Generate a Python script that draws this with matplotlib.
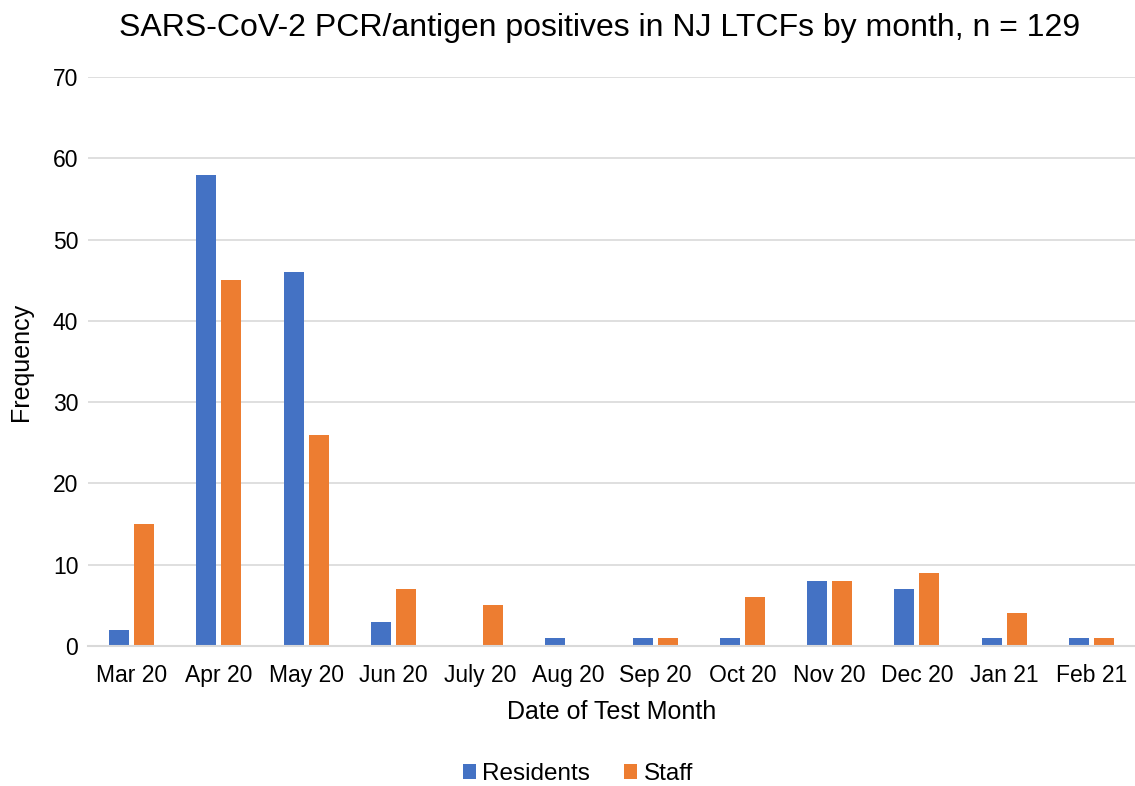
import matplotlib
matplotlib.use("Agg")
import matplotlib.pyplot as plt
import numpy as np

months = ["Mar 20", "Apr 20", "May 20", "Jun 20", "July 20", "Aug 20",
          "Sep 20", "Oct 20", "Nov 20", "Dec 20", "Jan 21", "Feb 21"]
residents = [2, 58, 46, 3, 0, 1, 1, 1, 8, 7, 1, 1]
staff = [15, 45, 26, 7, 5, 0, 1, 6, 8, 9, 4, 1]

plt.rcParams['font.family'] = ['Liberation Sans', 'DejaVu Sans']

fig = plt.figure(figsize=(11.35, 7.86), dpi=100)
ax = fig.add_axes([88/1135, 1-646/786, (1135-88)/1135, (646-77)/786])

x = np.arange(len(months))
w = 0.23
off = 0.143
ax.bar(x - off, residents, width=w, color="#4472C4", label="Residents", zorder=3)
ax.bar(x + off, staff, width=w, color="#ED7D31", label="Staff", zorder=3)

ax.set_xlim(-0.5, len(months) - 0.5)
ax.set_ylim(0, 70)
ax.set_yticks(range(0, 71, 10))
ax.set_xticks(x)
ax.set_xticklabels(months)
ax.tick_params(axis='both', length=0, labelsize=16.5, colors="#000000")
ax.tick_params(axis='x', pad=13)
ax.tick_params(axis='y', pad=7)
ax.grid(axis='y', color="#D9D9D9", linewidth=1.2, zorder=0)
for s in ["top", "right", "left"]:
    ax.spines[s].set_visible(False)
ax.spines["bottom"].set_color("#D9D9D9")
ax.spines["bottom"].set_linewidth(1.5)
ax.spines["bottom"].set_zorder(4)

ax.set_xlabel("Date of Test Month", fontsize=18, labelpad=9)
ax.set_ylabel("Frequency", fontsize=18, labelpad=14)
fig.text(0.528, 1-28/786, "SARS-CoV-2 PCR/antigen positives in NJ LTCFs by month, n = 129",
         ha="center", va="center", fontsize=23)

fig.legend(loc="center", bbox_to_anchor=(0.509, 1-774/786), ncol=2, frameon=False,
           fontsize=17.5, handlelength=0.55, handleheight=0.55, handletextpad=0.25,
           columnspacing=1.4)

fig.savefig("out.png", dpi=100)
